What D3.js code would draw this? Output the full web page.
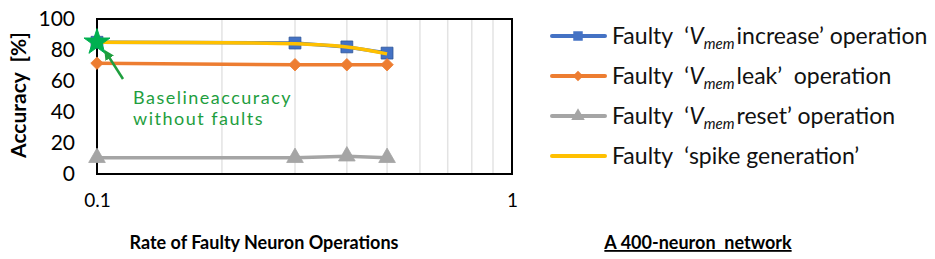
<!DOCTYPE html>
<html><head><meta charset="utf-8">
<script src="https://cdn.jsdelivr.net/npm/d3@7"></script>
<style>body{margin:0;background:#fff}svg{display:block}text{font-family:Lato,"Open Sans",sans-serif;white-space:pre}</style>
</head><body><svg id="c" width="935" height="259"></svg>
<script>
const rates = [0.1, 0.3, 0.4, 0.5];
const increaseVals = [85, 84.5, 82, 78];
const leakVals = [71.5, 70.5, 70.5, 70.5];
const resetVals = [10.5, 10.5, 11.5, 10.5];
const spikeVals = [85, 84, 82, 77.5];
const baseline = [0.1, 85];
const yTicks = [0, 20, 40, 60, 80, 100];
const xTicks = [0.1, 1];
const gridVals = [0.2, 0.3, 0.4, 0.5, 0.6, 0.7, 0.8, 0.9];
const seriesNames = ["increase", "leak", "reset", "spike"];

const svg = d3.select("#c");
const L = 97, R = 512, T = 19, B = 174;
const x = d3.scaleLog().domain([0.1, 1]).range([L, R]);
const y = d3.scaleLinear().domain([0, 100]).range([B, T]);

svg.append("g").selectAll("line").data(gridVals).join("line")
  .attr("x1", d => x(d)).attr("x2", d => x(d)).attr("y1", T).attr("y2", B)
  .attr("stroke", "#e3e3e3").attr("stroke-width", 1.5);

const ya = d3.axisLeft(y).tickValues(yTicks).tickSize(0).tickPadding(22).tickFormat(d3.format("d"));
const gy = svg.append("g").attr("transform", `translate(${L},0)`).call(ya);
gy.select(".domain").remove();
gy.selectAll("text").attr("font-size", 21).attr("fill", "#000");

const xa = d3.axisBottom(x).tickValues(xTicks).tickSize(0).tickPadding(20).tickFormat(d => d === 1 ? "1" : "0.1");
const gx = svg.append("g").attr("transform", `translate(0,${B})`).call(xa);
gx.select(".domain").remove();
gx.selectAll("text").attr("font-size", 19).attr("fill", "#000");

svg.append("rect").attr("x", L).attr("y", T).attr("width", R - L).attr("height", B - T)
  .attr("fill", "none").attr("stroke", "#000").attr("stroke-width", 2);

const colors = {increase: "#4472C4", leak: "#ED7D31", reset: "#A5A5A5", spike: "#FFC000"};
const line = d3.line().x(d => x(d[0])).y(d => y(d[1]));
const smooth = d3.line().x(d => x(d[0])).y(d => y(d[1])).curve(d3.curveCatmullRom.alpha(0.5));
const pts = v => rates.map((r, i) => [r, v[i]]);

function drawSeries(vals, color, sym, size, gen) {
  const g = svg.append("g");
  g.append("path").datum(pts(vals)).attr("d", gen).attr("fill", "none")
    .attr("stroke", color).attr("stroke-width", 3.5).attr("stroke-linejoin", "round");
  if (sym) {
    g.selectAll("path.m").data(pts(vals)).join("path").attr("class", "m")
      .attr("d", d3.symbol().type(sym).size(size))
      .attr("transform", d => `translate(${x(d[0])},${y(d[1])})`)
      .attr("fill", color).attr("stroke", color === colors.increase ? "#2f5597" : color).attr("stroke-width", 0.8);
  }
}
drawSeries(increaseVals, colors.increase, d3.symbolSquare, 140, line);
drawSeries(leakVals, colors.leak, d3.symbolDiamond2 || d3.symbolDiamond, 100, line);
drawSeries(resetVals, colors.reset, d3.symbolTriangle, 120, line);
drawSeries(spikeVals, colors.spike, null, 0, smooth);

svg.append("path").attr("d", d3.symbol().type(d3.symbolStar).size(210))
  .attr("transform", `translate(${x(baseline[0])},${y(baseline[1])})`)
  .attr("fill", "#00B050").attr("stroke", "#00B050");

const green = "#1E9E3E";
svg.append("defs").append("marker").attr("id", "ah").attr("viewBox", "0 0 10 10")
  .attr("refX", 5).attr("refY", 5).attr("markerWidth", 4).attr("markerHeight", 4).attr("orient", "auto")
  .append("path").attr("d", "M0,0L10,5L0,10z").attr("fill", green);
svg.append("line").attr("x1", 123).attr("y1", 79).attr("x2", 107).attr("y2", 54)
  .attr("stroke", green).attr("stroke-width", 2.5).attr("marker-end", "url(#ah)");
svg.append("text").attr("x", 133).attr("y", 104).attr("fill", green).attr("font-size", 18)
  .attr("letter-spacing", 1.5).text("Baselineaccuracy");
svg.append("text").attr("x", 133).attr("y", 125).attr("fill", green).attr("font-size", 18)
  .attr("letter-spacing", 1.5).text("without faults");

svg.append("text").attr("transform", "translate(26,95) rotate(-90)").attr("text-anchor", "middle")
  .attr("font-size", 21).attr("font-weight", "bold").text("Accuracy  [%]");
svg.append("text").attr("x", 264).attr("y", 249).attr("text-anchor", "middle")
  .attr("font-size", 18).attr("font-weight", "bold").text("Rate of Faulty Neuron Operations");
svg.append("text").attr("x", 698).attr("y", 249).attr("text-anchor", "middle")
  .attr("font-size", 18).attr("font-weight", "bold").attr("text-decoration", "underline")
  .text("A 400-neuron  network");

const legY = [36, 76, 116, 156];
const legSyms = [d3.symbolSquare, d3.symbolDiamond2 || d3.symbolDiamond, d3.symbolTriangle, null];
const legSizes = [90, 70, 80, 0];
const lg = svg.append("g");
seriesNames.forEach((s, i) => {
  const yy = legY[i];
  lg.append("line").attr("x1", 552).attr("x2", 605).attr("y1", yy).attr("y2", yy)
    .attr("stroke", colors[s]).attr("stroke-width", 4).attr("stroke-linecap", "round");
  if (legSyms[i]) lg.append("path").attr("d", d3.symbol().type(legSyms[i]).size(legSizes[i]))
    .attr("transform", `translate(578,${yy})`).attr("fill", colors[s]);
  const t = lg.append("text").attr("x", 612).attr("y", yy + 8).attr("font-size", 23).attr("fill", "#111");
  t.append("tspan").text("Faulty  \u2018");
  if (i < 3) {
    t.append("tspan").attr("font-style", "italic").text("V");
    t.append("tspan").attr("font-style", "italic").attr("font-size", 15).attr("dy", 5).text("mem");
    const rest = ["increase\u2019 operation", "leak\u2019  operation", "reset\u2019 operation"][i];
    t.append("tspan").attr("dy", -5).attr("dx", 2).text(rest);
  } else {
    t.append("tspan").text("spike generation\u2019");
  }
});
</script></body></html>
